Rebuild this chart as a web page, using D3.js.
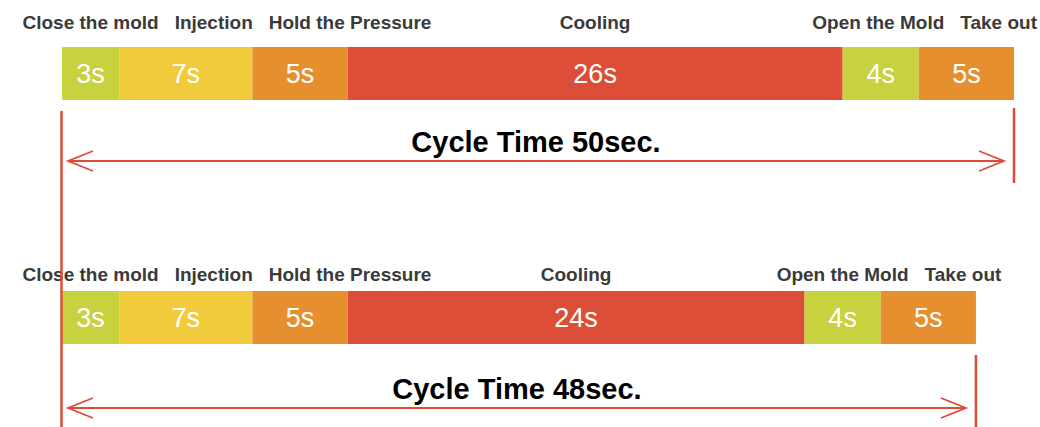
<html>
<script src='https://d3js.org/d3.v7.min.js'></script>
<style>
body {margin: 0; background: #fff;}
text {font-family: "Liberation Sans", Arial, sans-serif;}
</style>
<body onload='init()'>
<svg width=1040 height=427></svg>
<script>
// data
var steps = ["Close the mold", "Injection", "Hold the Pressure", "Cooling", "Open the Mold", "Take out"];
var before = [3, 7, 5, 26, 4, 5];
var after = [3, 7, 5, 24, 4, 5];
var colors = ["#c8d13e", "#f2cb3c", "#e68f2f", "#dc4e37", "#c8d13e", "#e68f2f"];

function init() {
    var svg = d3.select("svg");
    var red = "#e04b36";

    var x = d3.scaleLinear([0, d3.sum(before)], [62, 1014]);

    function drawRow(vals, top, labelY, arrowY) {
        var total = d3.sum(vals);
        var starts = d3.cumsum([0].concat(vals.slice(0, -1)));
        var segs = vals.map((v, i) => ({name: steps[i], v: v, s: starts[i], c: colors[i]}));
        var g = svg.append("g");

        g.selectAll("rect").data(segs).enter().append("rect")
            .attr("x", d => x(d.s))
            .attr("y", top)
            .attr("width", d => x(d.s + d.v) - x(d.s))
            .attr("height", 53)
            .attr("fill", d => d.c);

        g.selectAll(".val").data(segs).enter().append("text")
            .attr("class", "val")
            .attr("x", d => x(d.s + d.v / 2))
            .attr("y", top + 36)
            .attr("text-anchor", "middle")
            .attr("fill", "#fff")
            .style("font-size", "27px")
            .text(d => d.v + "s");

        var lbl = g.selectAll(".lbl").data(segs).enter().append("text")
            .attr("class", "lbl")
            .attr("y", labelY)
            .attr("fill", "#3a3a3a")
            .style("font-size", "19px")
            .style("font-weight", "bold")
            .text(d => d.name);

        // centre labels over segments, then push apart so they don't collide
        var prevRight = 10 - 16;
        lbl.each(function(d) {
            var w = this.getComputedTextLength();
            var left = Math.max(x(d.s + d.v / 2) - w / 2, prevRight + 16, 10);
            d.w = w; d.left = left;
            prevRight = left + w;
        });
        var nodes = lbl.nodes();
        var limit = 1037;
        for (var i = nodes.length - 1; i >= 0; i--) {
            var d = d3.select(nodes[i]).datum();
            if (d.left + d.w > limit) d.left = limit - d.w;
            limit = d.left - 16;
        }
        lbl.attr("x", d => d.left);

        // end marker of the row
        var xe = x(total);
        g.append("line")
            .attr("x1", xe).attr("x2", xe)
            .attr("y1", arrowY - 53).attr("y2", arrowY + 22)
            .attr("stroke", red).attr("stroke-width", 2.5);

        // double arrow
        var x0 = x(0) + 6, x1 = xe - 10;
        g.append("line")
            .attr("x1", x0).attr("x2", x1)
            .attr("y1", arrowY).attr("y2", arrowY)
            .attr("stroke", red).attr("stroke-width", 1.8);
        g.append("path")
            .attr("d", `M${x0 + 25},${arrowY - 10}L${x0},${arrowY}L${x0 + 25},${arrowY + 10}`)
            .attr("fill", "none").attr("stroke", red).attr("stroke-width", 1.8);
        g.append("path")
            .attr("d", `M${x1 - 25},${arrowY - 10}L${x1},${arrowY}L${x1 - 25},${arrowY + 10}`)
            .attr("fill", "none").attr("stroke", red).attr("stroke-width", 1.8);

        g.append("text")
            .attr("x", (x0 + x1) / 2)
            .attr("y", arrowY - 9)
            .attr("text-anchor", "middle")
            .attr("fill", "#000")
            .style("font-size", "29px")
            .style("font-weight", "bold")
            .text("Cycle Time " + total + "sec.");
    }

    drawRow(before, 47, 29, 161);
    drawRow(after, 291, 281, 408);

    // shared start line
    svg.append("line")
        .attr("x1", x(0) - 0.5).attr("x2", x(0) - 0.5)
        .attr("y1", 111).attr("y2", 427)
        .attr("stroke", red).attr("stroke-width", 2.5);
}
</script>
</body>
</html>
